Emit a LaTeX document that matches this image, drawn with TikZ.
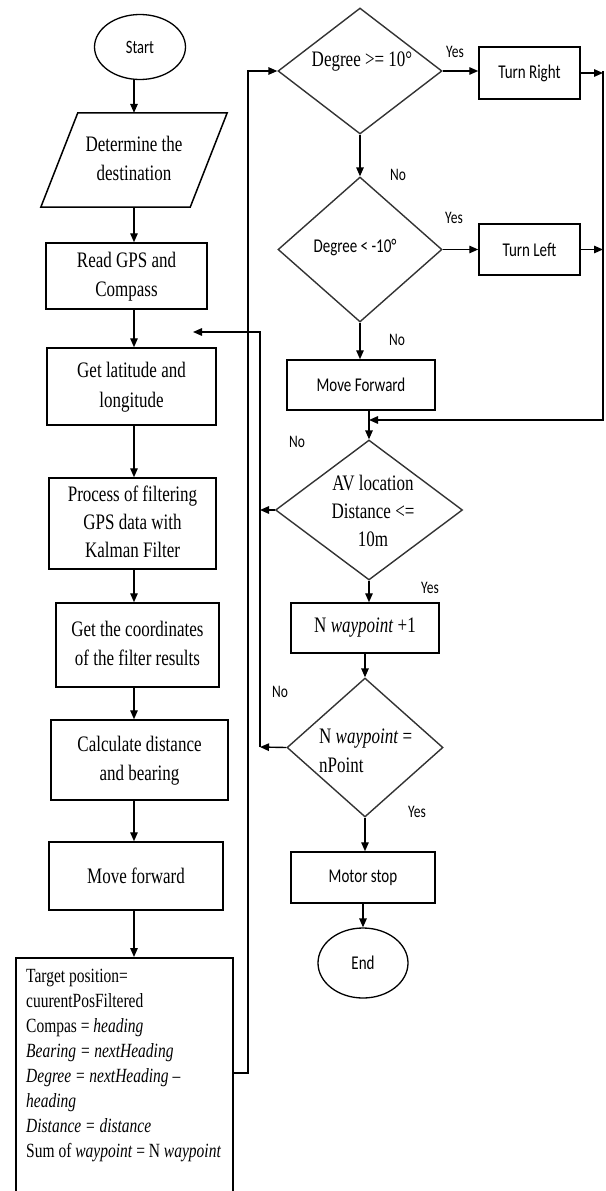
\documentclass[tikz,border=0pt]{standalone}
\usepackage{fontspec}
\setmainfont{Liberation Serif}
\newfontfamily\carl{Carlito}
\usepackage{graphicx}
\usetikzlibrary{shapes.geometric,arrows.meta}
\newcommand{\vtc}[1]{\scalebox{1}[1.3]{\begin{tabular}{@{}c@{}}#1\end{tabular}}}
\newcommand{\vtl}[1]{\scalebox{1}[1.3]{\begin{tabular}{@{}l@{}}#1\end{tabular}}}
\newcommand{\vs}[1]{\scalebox{1}[1.3]{#1}}
\tikzset{
  ser/.style={inner sep=0pt, align=center, font=\fontsize{17}{23}\selectfont},
  sans/.style={inner sep=0pt, align=center, font=\carl\fontsize{15}{19}\selectfont},
  box/.style={ser, draw=black, line width=1.5pt},
  sbox/.style={sans, draw=black, line width=1.5pt},
  boxline/.style={draw=black, line width=1.5pt},
  oval/.style={ellipse, draw=black, line width=1.3pt, inner sep=0pt, font=\carl\fontsize{14.5}{17}\selectfont},
  dia/.style={diamond, draw=black!80, line width=1.4pt, inner sep=0pt},
  arr/.style={line width=1.4pt, -{Triangle[length=9pt,width=7.5pt]}},
  lin/.style={line width=1.4pt},
  lab/.style={inner sep=0pt, font=\carl\fontsize{13.5}{16}\selectfont}
}
\begin{document}
\begin{tikzpicture}[x=1pt,y=-1pt]
\useasboundingbox (0,0) rectangle (605,1191);
\coordinate (colx) at (134,0);
% left column
\node[oval, minimum width=91, minimum height=65] (start) at (140,47) {\vs{Start}};
\node[ser, minimum width=149, minimum height=94] (dest) at (134,160) {\vtc{Determine the\\destination}};
\draw[boxline] ([xshift=18.5pt]dest.north west) -- ([xshift=18.5pt]dest.north east) -- ([xshift=-18.5pt]dest.south east) -- ([xshift=-18.5pt]dest.south west) -- cycle;
\node[box, minimum width=161, minimum height=66] (gps) at (126.5,276) {\vtc{Read GPS and\\Compass}};
\node[box, minimum width=169, minimum height=77] (lat) at (131.5,386.5) {\vtc{Get latitude and\\longitude}};
\node[box, minimum width=167, minimum height=91, font=\fontsize{17}{21.5}\selectfont] (proc) at (132.5,523.5) {\vtc{Process of filtering\\GPS data with\\Kalman Filter}};
\node[box, minimum width=163, minimum height=84] (coord) at (137.5,645) {\vtc{Get the coordinates\\of the filter results}};
\node[box, minimum width=177, minimum height=80] (calc) at (139.5,760) {\vtc{Calculate distance\\and bearing}};
\node[box, minimum width=174, minimum height=68] (move) at (136,876) {\vs{Move forward}};
\node[box, minimum width=217, minimum height=240, anchor=north west] (tgt) at (15,957) {};
\node[ser, anchor=north west, align=left, font=\fontsize{15.5}{19.2}\selectfont] (tgttxt) at (26,965) {\vtl{Target position=\\cuurentPosFiltered\\Compas = \textit{heading}\\\textit{Bearing = nextHeading}\\\textit{Degree = nextHeading} –\\\textit{heading}\\\textit{Distance = distance}\\Sum of \textit{waypoint} = N \textit{waypoint}}};
\draw[arr] (start.south -| colx) -- (dest.north -| colx);
\draw[arr] (dest.south -| colx) -- (gps.north -| colx);
\draw[arr] (gps.south -| colx) -- (lat.north -| colx);
\draw[arr] (lat.south -| colx) -- (proc.north -| colx);
\draw[arr] (proc.south -| colx) -- (coord.north -| colx);
\draw[arr] (coord.south -| colx) -- (calc.north -| colx);
\draw[arr] (calc.south -| colx) -- (move.north -| colx);
\draw[arr] (move.south -| colx) -- (tgt.north -| colx);
% right column
\node[dia, minimum width=164, minimum height=126] (d1) at (360,71) {};
\node[ser] (d1t) at (362,62) {\vs{Degree >= 10°}};
\node[sbox, minimum width=101, minimum height=52] (tr) at (529.5,73) {\vs{Turn Right}};
\node[dia, minimum width=164, minimum height=145] (d2) at (360,249.5) {};
\node[sans] (d2t) at (355,248) {\vs{Degree < -10°}};
\node[sbox, minimum width=101, minimum height=51] (tl) at (529.5,249.5) {\vs{Turn Left}};
\node[sbox, minimum width=148, minimum height=50] (mf) at (361,385) {\vs{Move Forward}};
\node[dia, minimum width=187, minimum height=140] (d3) at (369,510) {};
\node[ser, font=\fontsize{17}{21.5}\selectfont] (d3t) at (373,513) {\vtc{AV location\\Distance <=\\10m}};
\node[box, minimum width=148, minimum height=50] (wp) at (365,628) {\vs{N \textit{waypoint} +1}};
\node[dia, minimum width=156, minimum height=139] (d4) at (365,747.5) {};
\node[ser, anchor=west, align=left, font=\fontsize{17}{23}\selectfont] (d4t) at (319,752) {\vtl{N \textit{waypoint} =\\nPoint}};
\node[sbox, minimum width=144, minimum height=51] (ms) at (363,877.5) {\vs{Motor stop}};
\node[oval, minimum width=90, minimum height=70, font=\carl\fontsize{15}{18}\selectfont] (end) at (363,963) {\vs{End}};
% right column connectors
\draw[arr] (d1.east) -- (d1.east -| tr.west);
\draw[arr] (d1.south) -- (d2.north);
\draw[arr] (d2.east) -- (d2.east -| tl.west);
\draw[arr] (d2.south) -- (d2.south |- mf.north);
\draw[arr] (mf.south -| d3.north) -- (d3.north);
\draw[arr] (d3.south) -- (d3.south |- wp.north);
\draw[arr] (wp.south -| d4.north) -- (d4.north);
\draw[arr] (d4.south) -- (d4.south |- ms.north);
\draw[arr] (ms.south -| end.north) -- (end.north);
% right return line
\coordinate (rtop) at (603,71);
\coordinate (rbot) at (603,420);
\draw[arr] (tr.east) -- (tr.east -| rtop);
\draw[arr] (tl.east) -- (tl.east -| rtop);
\draw[arr] (rtop) -- (rbot) -- (rbot -| d3.north);
% left return line
\coordinate (ltop) at (260,332);
\coordinate (lbot) at (260,747);
\coordinate (back) at (193,332);
\draw[arr] (d3.west) -- (d3.west -| lbot);
\draw[arr] (d4.west) -- (lbot);
\draw[arr] (lbot) -- (ltop) -- (back);
% loop from target box to first decision
\coordinate (lp) at (248,1073);
\draw[arr] (tgt.east |- lp) -- (lp) |- (d1.west);
% labels
\node[lab] (y1) at (455,52) {\vs{Yes}};
\node[lab] (n1) at (398,175) {\vs{No}};
\node[lab] (y2) at (454,218) {\vs{Yes}};
\node[lab] (n2) at (397,340) {\vs{No}};
\node[lab] (n3) at (297,442) {\vs{No}};
\node[lab] (y3) at (430,588) {\vs{Yes}};
\node[lab] (n4) at (280,692) {\vs{No}};
\node[lab] (y4) at (417,812) {\vs{Yes}};
\end{tikzpicture}
\end{document}
